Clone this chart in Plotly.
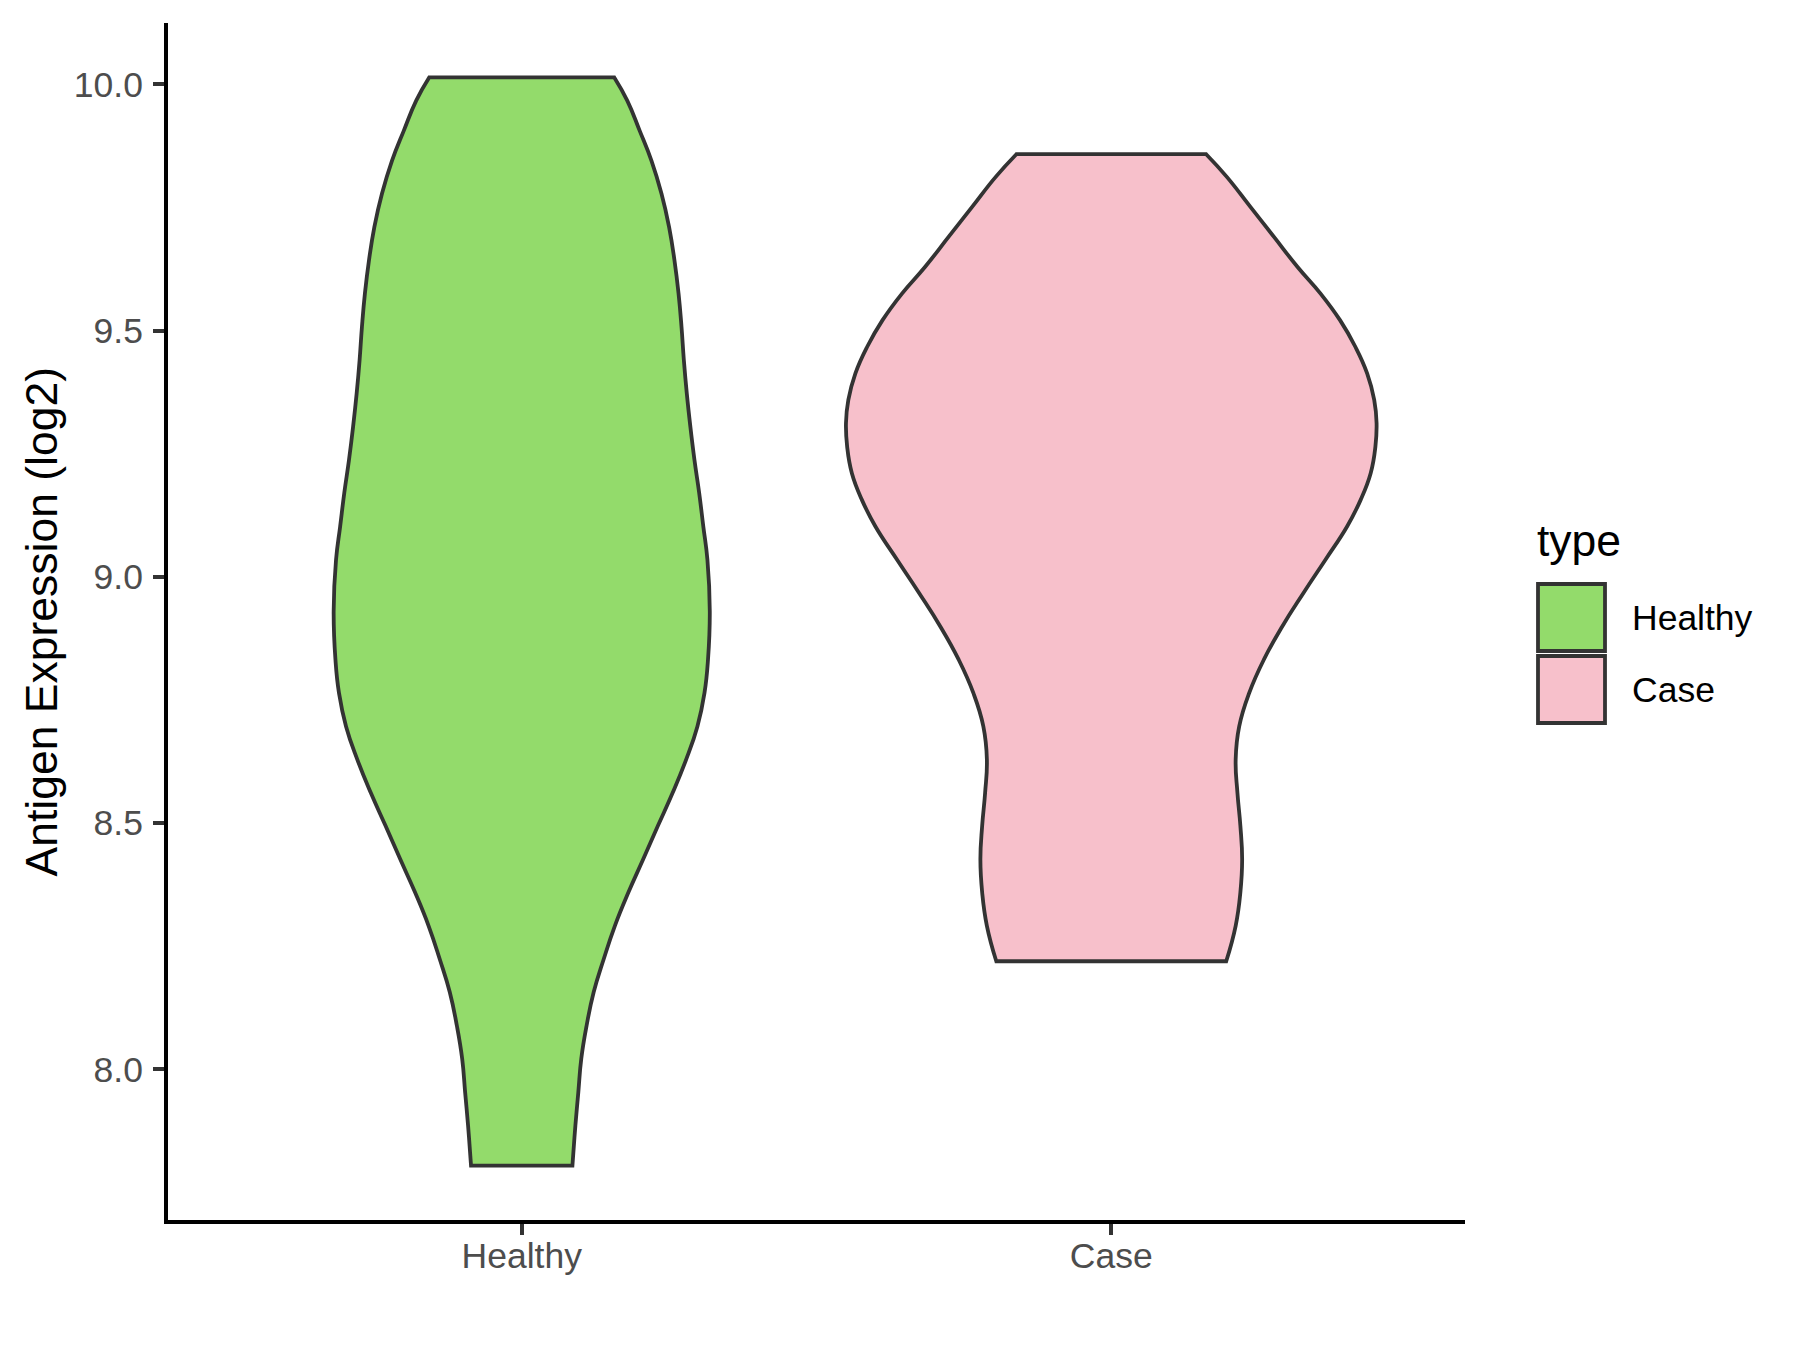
import plotly.graph_objects as go

# ---------------- data ----------------
categories = ["Healthy", "Case"]

# violin outline profiles: expression level (log2) and half-width (in category units)
healthy_level = [7.804, 7.885, 7.953, 8.021, 8.088, 8.156, 8.223, 8.291, 8.359, 8.426,
                 8.494, 8.561, 8.629, 8.696, 8.764, 8.832, 8.930, 9.034, 9.102, 9.170,
                 9.237, 9.305, 9.372, 9.440, 9.508, 9.575, 9.643, 9.710, 9.778, 9.845,
                 9.906, 9.967, 10.014]
healthy_halfwidth = [0.086, 0.091, 0.096, 0.101, 0.110, 0.122, 0.139, 0.158, 0.181, 0.206,
                     0.231, 0.256, 0.279, 0.298, 0.310, 0.316, 0.319, 0.315, 0.308, 0.301,
                     0.293, 0.286, 0.280, 0.275, 0.271, 0.266, 0.259, 0.250, 0.237, 0.220,
                     0.200, 0.179, 0.157]

case_level = [8.219, 8.291, 8.359, 8.426, 8.494, 8.561, 8.629, 8.696, 8.764, 8.832,
              8.899, 8.967, 9.034, 9.102, 9.156, 9.210, 9.264, 9.312, 9.359, 9.413,
              9.467, 9.521, 9.575, 9.629, 9.690, 9.751, 9.812, 9.858]
case_halfwidth = [0.195, 0.211, 0.219, 0.222, 0.219, 0.214, 0.211, 0.217, 0.234, 0.259,
                  0.290, 0.326, 0.363, 0.400, 0.423, 0.440, 0.448, 0.450, 0.446, 0.434,
                  0.414, 0.388, 0.355, 0.316, 0.276, 0.236, 0.196, 0.161]

y_ticks = [8.0, 8.5, 9.0, 9.5, 10.0]
y_tick_labels = ["8.0", "8.5", "9.0", "9.5", "10.0"]

# ---------------- styles ----------------
FILL = {"Healthy": "#93DB6B", "Case": "#F7C0CB"}
OUTLINE = "#333333"
FONT = "Liberation Sans, Arial, Helvetica, sans-serif"
TICK_SIZE = 35.5
TITLE_SIZE = 44.5

W, H = 1800, 1350
ML, MR, MT, MB = 168, 335, 23, 130
PW, PH = W - ML - MR, H - MT - MB


def px_x(px):
    return (px - ML) / PW


def px_y(py):
    return (H - MB - py) / PH


profiles = {
    "Healthy": (healthy_level, healthy_halfwidth),
    "Case": (case_level, case_halfwidth),
}

fig = go.Figure()

for i, cat in enumerate(categories):
    center = i + 1
    lev, hw = profiles[cat]
    left_x = [center - w for w in hw]
    right_x = [center + w for w in hw[::-1]]
    rev_lev = lev[::-1]
    # duplicate the corner points so the spline keeps sharp flat ends
    xs = [left_x[0]] + left_x + [left_x[-1], right_x[0]] + right_x + [right_x[-1], left_x[0]]
    ys = [lev[0]] + lev + [lev[-1], rev_lev[0]] + rev_lev + [rev_lev[-1], lev[0]]
    fig.add_trace(go.Scatter(
        x=xs, y=ys, mode="lines", fill="toself",
        fillcolor=FILL[cat],
        line=dict(color=OUTLINE, width=3.8, shape="spline", smoothing=1.3, simplify=False),
        name=cat, showlegend=False, hoverinfo="skip",
    ))

ymin = min(healthy_level + case_level)
ymax = max(healthy_level + case_level)
pad = (ymax - ymin) * 0.05

fig.update_layout(
    width=W, height=H,
    margin=dict(l=ML, r=MR, t=MT, b=MB, pad=0),
    paper_bgcolor="white", plot_bgcolor="white",
    font=dict(family=FONT),
    showlegend=False,
    xaxis=dict(
        range=[0.4, 2.6], tickmode="array",
        tickvals=[i + 1 for i in range(len(categories))], ticktext=categories,
        showgrid=False, zeroline=False, showline=True, linecolor="black", linewidth=4,
        ticks="outside", ticklen=11, tickwidth=4, tickcolor=OUTLINE,
        tickfont=dict(size=TICK_SIZE, color="#4D4D4D", family=FONT),
        ticklabelstandoff=-10,
    ),
    yaxis=dict(
        range=[ymin - pad, ymax + pad], tickmode="array",
        tickvals=y_ticks, ticktext=y_tick_labels,
        showgrid=False, zeroline=False, showline=True, linecolor="black", linewidth=4,
        ticks="outside", ticklen=11, tickwidth=4, tickcolor=OUTLINE,
        tickfont=dict(size=TICK_SIZE, color="#4D4D4D", family=FONT),
        ticklabelstandoff=3,
    ),
)

annotations = [
    dict(text="Antigen Expression (log2)", xref="paper", yref="paper",
         x=px_x(41), y=0.5, xanchor="center", yanchor="middle", textangle=-90,
         showarrow=False, font=dict(size=TITLE_SIZE, color="black", family=FONT)),
    dict(text="type", xref="paper", yref="paper", x=px_x(1535), y=px_y(540),
         xanchor="left", yanchor="middle", showarrow=False,
         font=dict(size=TITLE_SIZE, color="black", family=FONT)),
]

key_tops = [584, 656]
key_h = 67
for cat, top in zip(categories, key_tops):
    fig.add_shape(type="rect", xref="paper", yref="paper",
                  x0=px_x(1538), x1=px_x(1605), y0=px_y(top + key_h), y1=px_y(top),
                  fillcolor=FILL[cat], line=dict(color=OUTLINE, width=3.8))
    annotations.append(dict(text=cat, xref="paper", yref="paper", x=px_x(1630),
                            y=px_y(top + key_h / 2), xanchor="left", yanchor="middle",
                            showarrow=False,
                            font=dict(size=TICK_SIZE, color="black", family=FONT)))

fig.update_layout(annotations=annotations)

fig.write_html("out.html",
               config={"displayModeBar": False},
               post_script="document.body.style.margin='0px';document.body.style.padding='0px';")
